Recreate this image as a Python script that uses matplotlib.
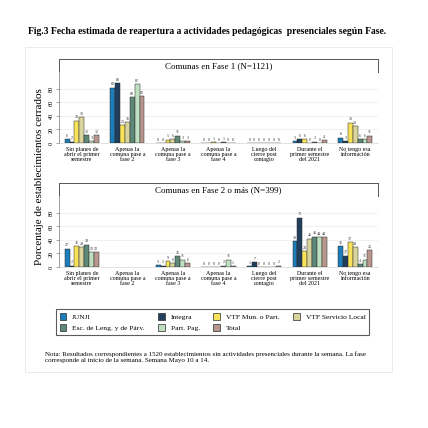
import matplotlib
matplotlib.use("Agg")
import matplotlib.pyplot as plt
from matplotlib.patches import Patch, Rectangle
import numpy as np

plt.rcParams['font.family'] = ['Liberation Serif', 'DejaVu Serif']

# categories and series
categorias = ["Sin planes de\nabrir el primer\nsemestre",
              "Apenas la\ncomuna pase a\nfase 2",
              "Apenas la\ncomuna pase a\nfase 3",
              "Apenas la\ncomuna pase a\nfase 4",
              "Luego del\ncierre post\ncontagio",
              "Durante el\nprimer semestre\ndel 2021",
              "No tengo esa\ninformación"]
series = ["JUNJI", "Integra", "VTF Mun. o Part.", "VTF Servicio Local",
          "Esc. de Leng. y de Párv.", "Part. Pag.", "Total"]
colores = ["#1c7db8", "#213f5c", "#f7e25a", "#d9d49c",
           "#5e8878", "#bfe0c0", "#b9978f"]

# rows: category, cols: series
fase1 = [[6, 2, 33, 38, 12, 3, 12],
         [82, 88, 26, 31, 68, 87, 69],
         [0, 0, 5, 6, 11, 3, 3],
         [0, 0, 1, 0, 1, 0, 0],
         [0, 0, 0, 0, 0, 0, 0],
         [3, 6, 6, 0, 2, 0, 4],
         [8, 3, 30, 25, 6, 6, 11]]
fase2 = [[27, 2, 31, 29, 33, 22, 22],
         [np.nan] * 7,
         [3, 2, 9, 6, 16, 11, 6],
         [0, 0, 0, 0, 2, 11, 1],
         [1, 7, 0, 0, 0, 0, 2],
         [38, 73, 23, 42, 45, 44, 44],
         [31, 17, 37, 29, 4, 11, 25]]
titulos = ["Comunas en Fase 1 (N=1121)", "Comunas en Fase 2 o más (N=399)"]

W, H = 428, 428
fig = plt.figure(figsize=(W / 100, H / 100), dpi=100)


def box(x0, y0, x1, y1):
    return [x0 / W, 1 - y1 / H, (x1 - x0) / W, (y1 - y0) / H]


fig.patches.append(Rectangle((25 / W, 1 - 372 / H), 367 / W, 325 / H,
                             transform=fig.transFigure, fill=False,
                             edgecolor="#e6e6e6", lw=0.6))

fig.text(28 / W, 1 - 32 / H,
         "Fig.3 Fecha estimada de reapertura a actividades pedagógicas  presenciales según Fase.",
         fontsize=6.9, fontweight="bold", va="center", ha="left")

tops = [(59, 72, 143), (183, 196, 267)]
ancho = 0.107

for datos, titulo, (ht, hb, base) in zip([fase1, fase2], titulos, tops):
    datos = np.array(datos, dtype=float)
    # header strip
    hax = fig.add_axes(box(59, ht, 378, hb))
    hax.set_xticks([])
    hax.set_yticks([])
    for s in hax.spines.values():
        s.set_color("#555555")
        s.set_linewidth(0.7)
    hax.text(0.5, 0.45, titulo, ha="center", va="center", fontsize=6.5,
             transform=hax.transAxes)

    ax = fig.add_axes(box(59, hb, 378, base))
    x = np.arange(len(categorias))
    for j, (nombre, c) in enumerate(zip(series, colores)):
        pos = x + (j - 3) * ancho
        vals = datos[:, j]
        ax.bar(pos, vals, width=ancho, color=c, edgecolor="#2a2a2a", lw=0.35,
               zorder=3)
        for p, v in zip(pos, vals):
            if not np.isnan(v):
                ax.text(p, v + 2, "%d" % v, ha="center", va="bottom",
                        fontsize=3, color="#333333")
    ax.set_xlim(-0.5, 6.5)
    ax.set_ylim(0, 105)
    ax.set_yticks([0, 20, 40, 60, 80])
    ax.set_yticklabels(["0", "20", "40", "60", "80"], rotation=90,
                       va="center", fontsize=4.5)
    ax.tick_params(axis="y", length=2, width=0.4, pad=1.5, color="#666666")
    ax.set_xticks(x)
    ax.set_xticklabels(categorias, fontsize=4.3, linespacing=0.95)
    ax.tick_params(axis="x", length=0, pad=3)
    ax.grid(axis="y", color="#ececec", lw=0.5, zorder=0)
    for s in ["top", "right"]:
        ax.spines[s].set_visible(False)
    ax.spines["left"].set_color("#777777")
    ax.spines["left"].set_linewidth(0.5)
    ax.spines["bottom"].set_color("#cccccc")
    ax.spines["bottom"].set_linewidth(0.4)

fig.text(40 / W, 1 - 177 / H, "Porcentaje de establecimientos cerrados",
         rotation=90, ha="center", va="center", fontsize=8)

# legend, row-major order
orden = [0, 4, 1, 5, 2, 6, 3]
handles = [Patch(facecolor=colores[i], edgecolor="#2a2a2a", lw=0.5,
                 label=series[i]) for i in orden]
fig.legend(handles=handles, ncol=4, loc="upper left",
           bbox_to_anchor=(52 / W, 1 - 343 / H, 321 / W, 38 / H),
           mode="expand", fontsize=5.4, frameon=True, fancybox=False,
           edgecolor="#333333", handlelength=0.9, handleheight=1.2,
           handletextpad=0.8, borderpad=0.5, labelspacing=0.45,
           columnspacing=1.5)
leg = fig.legends[0]
leg.get_frame().set_linewidth(0.8)

fig.text(45 / W, 1 - 357 / H,
         "Nota: Resultados correspondientes a 1520 establecimientos sin actividades presenciales durante la semana. La fase\n"
         "corresponde al inicio de la semana. Semana Mayo 10 a 14.",
         fontsize=5, ha="left", va="center", linespacing=1.1)

fig.savefig("out.png", dpi=100, facecolor="white")
